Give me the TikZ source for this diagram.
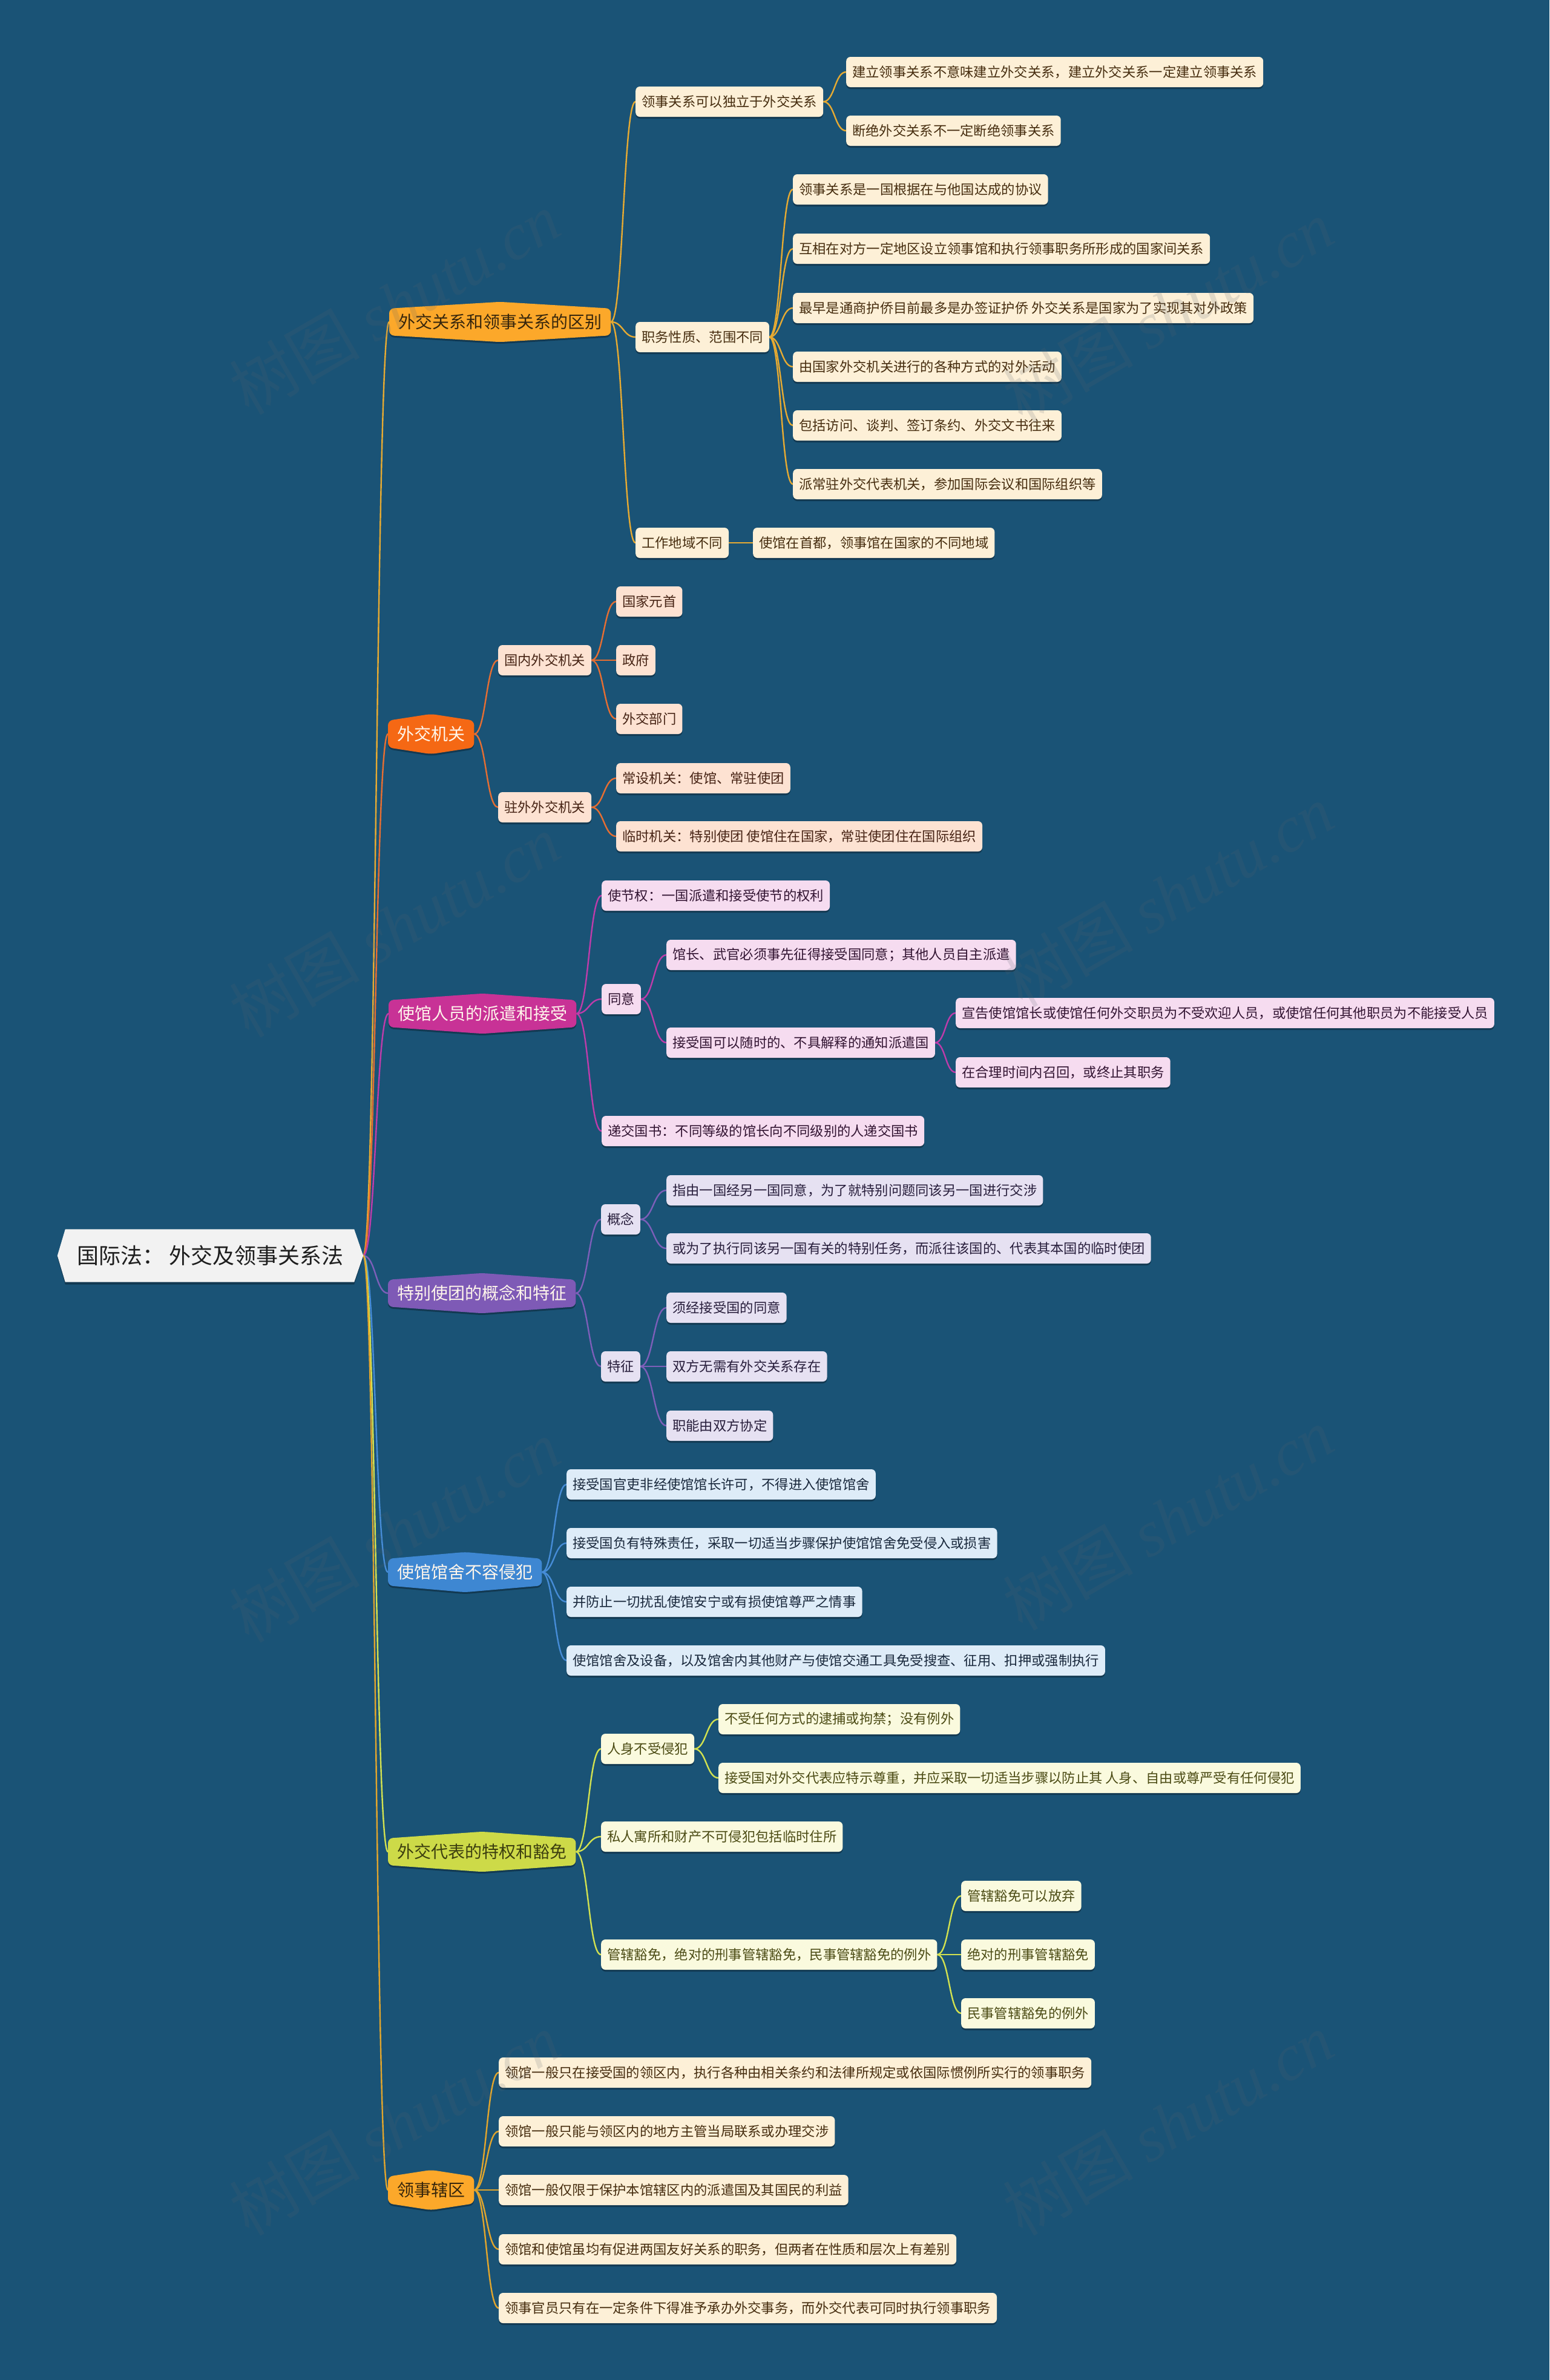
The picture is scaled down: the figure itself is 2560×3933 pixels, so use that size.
\documentclass[tikz,border=0pt]{standalone}
\usepackage{fontspec}
\setmainfont{Noto Sans CJK SC}
\newfontfamily\wmserif{Liberation Serif}
\usetikzlibrary{calc,shadows}
\definecolor{bgc}{RGB}{26,83,118}
\definecolor{rootfill}{RGB}{242,242,242}
\definecolor{roottext}{RGB}{30,30,30}
% level-1 fills
\definecolor{tA}{RGB}{252,168,42}
\definecolor{tB}{RGB}{245,104,20}
\definecolor{tC}{RGB}{200,50,150}
\definecolor{tD}{RGB}{126,90,182}
\definecolor{tE}{RGB}{62,135,210}
\definecolor{tF}{RGB}{205,218,72}
\definecolor{darkT}{RGB}{55,38,12}
\definecolor{darkF}{RGB}{60,62,15}
\definecolor{lightT}{RGB}{255,246,235}
% leaf fills and texts
\definecolor{fA}{RGB}{253,240,215}\definecolor{xA}{RGB}{70,45,15}
\definecolor{fB}{RGB}{253,226,210}\definecolor{xB}{RGB}{70,35,20}
\definecolor{fC}{RGB}{246,220,240}\definecolor{xC}{RGB}{50,20,50}
\definecolor{fD}{RGB}{230,225,242}\definecolor{xD}{RGB}{40,30,60}
\definecolor{fE}{RGB}{222,236,248}\definecolor{xE}{RGB}{25,40,60}
\definecolor{fF}{RGB}{250,250,222}\definecolor{xF}{RGB}{75,75,20}
% connector colours
\definecolor{cA}{RGB}{230,170,50}
\definecolor{cB}{RGB}{230,110,50}
\definecolor{cC}{RGB}{190,60,170}
\definecolor{cD}{RGB}{125,95,185}
\definecolor{cE}{RGB}{70,140,215}
\definecolor{cF}{RGB}{210,225,80}
\definecolor{cG}{RGB}{225,165,45}
\definecolor{wm}{RGB}{90,100,110}
\pgfdeclarelayer{bgl}
\pgfdeclarelayer{lines}
\pgfdeclarelayer{shapes}
\pgfdeclarelayer{top}
\pgfsetlayers{bgl,lines,shapes,main,top}
\tikzset{
  leaf/.style={rectangle, rounded corners=7pt, anchor=west, minimum height=50pt,
    inner xsep=10pt, inner ysep=0pt, font=\fontsize{22.3}{26}\selectfont,
    drop shadow={shadow xshift=0pt,shadow yshift=-3pt,opacity=0.3,fill=black}},
  lA/.style={leaf, fill=fA, text=xA},
  lB/.style={leaf, fill=fB, text=xB},
  lC/.style={leaf, fill=fC, text=xC},
  lD/.style={leaf, fill=fD, text=xD},
  lE/.style={leaf, fill=fE, text=xE},
  lF/.style={leaf, fill=fF, text=xF},
  topic/.style={rectangle, anchor=west, minimum height=66pt, inner xsep=15pt,
    inner ysep=0pt, font=\fontsize{28}{33}\selectfont},
  link/.style={line width=2.4pt, line cap=round},
  wmark/.style={rotate=30, text=wm, opacity=0.17, font=\fontsize{108}{120}\selectfont}
}
\newcommand\tpc[6]{%
  \node[topic,text=#5] (#1) at (#2,#3) {#6};
  \begin{pgfonlayer}{shapes}
    \fill[black,opacity=0.3,rounded corners=8pt]
      ($(#1.north west)+(0,14)$) -- ($(#1.north)+(0,3)$) -- ($(#1.north east)+(0,14)$)
      -- ($(#1.south east)+(0,-8)$) -- ($(#1.south)+(0,3)$) -- ($(#1.south west)+(0,-8)$) -- cycle;
    \fill[#4,rounded corners=8pt]
      ($(#1.north west)+(0,11)$) -- (#1.north) -- ($(#1.north east)+(0,11)$)
      -- ($(#1.south east)+(0,-11)$) -- (#1.south) -- ($(#1.south west)+(0,-11)$) -- cycle;
  \end{pgfonlayer}}
\newcommand\lnk[3]{%
  \draw[link,#3] let \p1=(#1.east), \p2=(#2.west) in
    (\p1) .. controls ({(\x1+\x2)/2},\y1) and ({(\x1+\x2)/2},\y2) .. (\p2);}
\begin{document}
\begin{tikzpicture}[x=1pt,y=-1pt]
\begin{pgfonlayer}{bgl}
\fill[bgc] (0,0) rectangle (2560,3933);
\end{pgfonlayer}
\useasboundingbox (0,0) rectangle (2560,3933);

% root
\node[minimum width=505pt, minimum height=87pt, inner sep=0pt, text=roottext,
  font=\fontsize{36}{42}\selectfont] (root) at (347.5,2075) {国际法： 外交及领事关系法};
\begin{pgfonlayer}{shapes}
  \fill[black,opacity=0.3] ($(root.north west)+(13,3)$) -- ($(root.north east)+(-15,3)$) -- ($(root.east)+(0,3)$)
    -- ($(root.south east)+(-15,4)$) -- ($(root.south west)+(13,4)$) -- ($(root.west)+(0,3)$) -- cycle;
  \fill[rootfill] ($(root.north west)+(13,0)$) -- ($(root.north east)+(-15,0)$) -- (root.east)
    -- ($(root.south east)+(-15,0)$) -- ($(root.south west)+(13,0)$) -- (root.west) -- cycle;
\end{pgfonlayer}

% level 1
\tpc{ta}{643}{532}{tA}{darkT}{外交关系和领事关系的区别}
\tpc{tb}{641}{1213}{tB}{lightT}{外交机关}
\tpc{tc}{642}{1675}{tC}{lightT}{使馆人员的派遣和接受}
\tpc{td}{641}{2137}{tD}{lightT}{特别使团的概念和特征}
\tpc{te}{641}{2598}{tE}{lightT}{使馆馆舍不容侵犯}
\tpc{tf}{641}{3060}{tF}{darkF}{外交代表的特权和豁免}
\tpc{tg}{641}{3619}{tA}{darkT}{领事辖区}

% branch A
\node[lA] (a1) at (1050,168) {领事关系可以独立于外交关系};
\node[lA] (a11) at (1398,119) {建立领事关系不意味建立外交关系，建立外交关系一定建立领事关系};
\node[lA] (a12) at (1398,216) {断绝外交关系不一定断绝领事关系};
\node[lA] (a2) at (1050,557) {职务性质、范围不同};
\node[lA] (a21) at (1310,313) {领事关系是一国根据在与他国达成的协议};
\node[lA] (a22) at (1310,411) {互相在对方一定地区设立领事馆和执行领事职务所形成的国家间关系};
\node[lA] (a23) at (1310,509) {最早是通商护侨目前最多是办签证护侨 外交关系是国家为了实现其对外政策};
\node[lA] (a24) at (1310,606) {由国家外交机关进行的各种方式的对外活动};
\node[lA] (a25) at (1310,703) {包括访问、谈判、签订条约、外交文书往来};
\node[lA] (a26) at (1310,800) {派常驻外交代表机关，参加国际会议和国际组织等};
\node[lA] (a3) at (1050,897) {工作地域不同};
\node[lA] (a31) at (1244,897) {使馆在首都，领事馆在国家的不同地域};

% branch B
\node[lB] (b1) at (823,1091) {国内外交机关};
\node[lB] (b11) at (1018,994) {国家元首};
\node[lB] (b12) at (1018,1091) {政府};
\node[lB] (b13) at (1018,1188) {外交部门};
\node[lB] (b2) at (823,1334) {驻外外交机关};
\node[lB] (b21) at (1018,1286) {常设机关：使馆、常驻使团};
\node[lB] (b22) at (1018,1382) {临时机关：特别使团 使馆住在国家，常驻使团住在国际组织};

% branch C
\node[lC] (c1) at (994,1480) {使节权：一国派遣和接受使节的权利};
\node[lC] (c2) at (994,1651) {同意};
\node[lC] (c21) at (1101,1578) {馆长、武官必须事先征得接受国同意；其他人员自主派遣};
\node[lC] (c22) at (1101,1723) {接受国可以随时的、不具解释的通知派遣国};
\node[lC] (c221) at (1579,1674) {宣告使馆馆长或使馆任何外交职员为不受欢迎人员，或使馆任何其他职员为不能接受人员};
\node[lC] (c222) at (1579,1772) {在合理时间内召回，或终止其职务};
\node[lC] (c3) at (994,1869) {递交国书：不同等级的馆长向不同级别的人递交国书};

% branch D
\node[lD] (d1) at (993,2015) {概念};
\node[lD] (d11) at (1101,1967) {指由一国经另一国同意，为了就特别问题同该另一国进行交涉};
\node[lD] (d12) at (1101,2063) {或为了执行同该另一国有关的特别任务，而派往该国的、代表其本国的临时使团};
\node[lD] (d2) at (993,2258) {特征};
\node[lD] (d21) at (1101,2161) {须经接受国的同意};
\node[lD] (d22) at (1101,2258) {双方无需有外交关系存在};
\node[lD] (d23) at (1101,2356) {职能由双方协定};

% branch E
\node[lE] (e1) at (936,2453) {接受国官吏非经使馆馆长许可，不得进入使馆馆舍};
\node[lE] (e2) at (936,2550) {接受国负有特殊责任，采取一切适当步骤保护使馆馆舍免受侵入或损害};
\node[lE] (e3) at (936,2647) {并防止一切扰乱使馆安宁或有损使馆尊严之情事};
\node[lE] (e4) at (936,2744) {使馆馆舍及设备，以及馆舍内其他财产与使馆交通工具免受搜查、征用、扣押或强制执行};

% branch F
\node[lF] (f1) at (993,2890) {人身不受侵犯};
\node[lF] (f11) at (1187,2841) {不受任何方式的逮捕或拘禁；没有例外};
\node[lF] (f12) at (1187,2938) {接受国对外交代表应特示尊重，并应采取一切适当步骤以防止其 人身、自由或尊严受有任何侵犯};
\node[lF] (f2) at (993,3035) {私人寓所和财产不可侵犯包括临时住所};
\node[lF] (f3) at (993,3230) {管辖豁免，绝对的刑事管辖豁免，民事管辖豁免的例外};
\node[lF] (f31) at (1588,3133) {管辖豁免可以放弃};
\node[lF] (f32) at (1588,3230) {绝对的刑事管辖豁免};
\node[lF] (f33) at (1588,3327) {民事管辖豁免的例外};

% branch G
\node[lA] (g1) at (824,3425) {领馆一般只在接受国的领区内，执行各种由相关条约和法律所规定或依国际惯例所实行的领事职务};
\node[lA] (g2) at (824,3522) {领馆一般只能与领区内的地方主管当局联系或办理交涉};
\node[lA] (g3) at (824,3619) {领馆一般仅限于保护本馆辖区内的派遣国及其国民的利益};
\node[lA] (g4) at (824,3717) {领馆和使馆虽均有促进两国友好关系的职务，但两者在性质和层次上有差别};
\node[lA] (g5) at (824,3814) {领事官员只有在一定条件下得准予承办外交事务，而外交代表可同时执行领事职务};

\begin{pgfonlayer}{lines}
  \lnk{root}{ta}{cA}
  \lnk{root}{tb}{cB}
  \lnk{root}{tc}{cC}
  \lnk{root}{td}{cD}
  \lnk{root}{te}{cE}
  \lnk{root}{tf}{cF}
  \lnk{root}{tg}{cG}
  \foreach \c in {a1,a2,a3}{\lnk{ta}{\c}{cA}}
  \foreach \c in {a11,a12}{\lnk{a1}{\c}{cA}}
  \foreach \c in {a21,a22,a23,a24,a25,a26}{\lnk{a2}{\c}{cA}}
  \lnk{a3}{a31}{cA}
  \foreach \c in {b1,b2}{\lnk{tb}{\c}{cB}}
  \foreach \c in {b11,b12,b13}{\lnk{b1}{\c}{cB}}
  \foreach \c in {b21,b22}{\lnk{b2}{\c}{cB}}
  \foreach \c in {c1,c2,c3}{\lnk{tc}{\c}{cC}}
  \foreach \c in {c21,c22}{\lnk{c2}{\c}{cC}}
  \foreach \c in {c221,c222}{\lnk{c22}{\c}{cC}}
  \foreach \c in {d1,d2}{\lnk{td}{\c}{cD}}
  \foreach \c in {d11,d12}{\lnk{d1}{\c}{cD}}
  \foreach \c in {d21,d22,d23}{\lnk{d2}{\c}{cD}}
  \foreach \c in {e1,e2,e3,e4}{\lnk{te}{\c}{cE}}
  \foreach \c in {f1,f2,f3}{\lnk{tf}{\c}{cF}}
  \foreach \c in {f11,f12}{\lnk{f1}{\c}{cF}}
  \foreach \c in {f31,f32,f33}{\lnk{f3}{\c}{cF}}
  \foreach \c in {g1,g2,g3,g4,g5}{\lnk{tg}{\c}{cG}}
\end{pgfonlayer}

% watermark (faint, on top as in the reference)
\begin{pgfonlayer}{top}
\foreach \wx/\wy in {652/501,1930/514,652/1530,1930/1480,652/2530,1930/2510,652/3510,1930/3510}{
  \node[wmark] at (\wx,\wy) {树图 {\wmserif\itshape shutu.cn}};
}
\end{pgfonlayer}
\end{tikzpicture}
\end{document}
